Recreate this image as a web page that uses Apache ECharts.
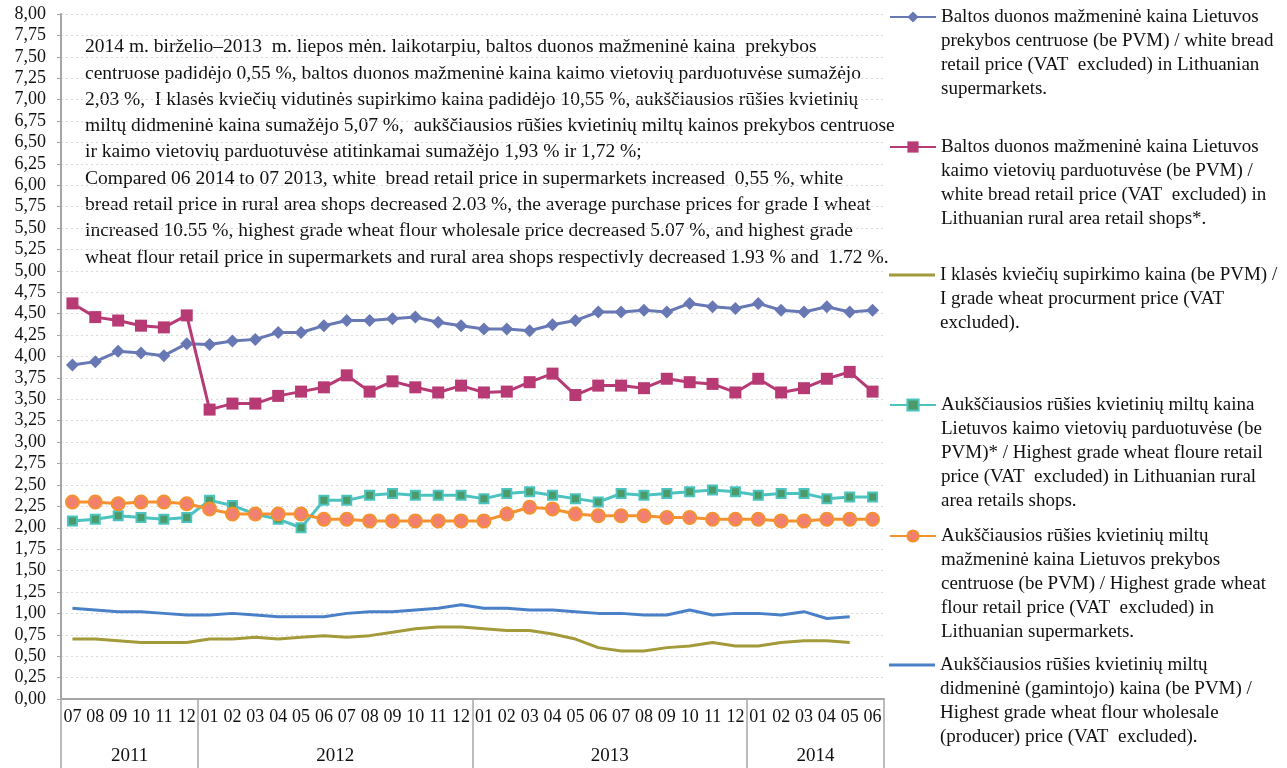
<!DOCTYPE html>
<html lang="lt">
<head>
    <meta charset="UTF-8">
    <title>Duonos ir miltų kainos</title>
    <script src="https://cdn.jsdelivr.net/npm/echarts@6/dist/echarts.min.js"></script>
    <style>
        html, body{
            margin: 0;
            padding: 0;
            background: #fff;
        }
        #chart{
            width: 1287px;
            height: 768px;
        }
    </style>
</head>
<body>
<div id="chart"></div>
<script>
    // 07 2011 - 06 2014
    var months = ['07','08','09','10','11','12',
        '01','02','03','04','05','06','07','08','09','10','11','12',
        '01','02','03','04','05','06','07','08','09','10','11','12',
        '01','02','03','04','05','06'];
    var years = ['2011', '2012', '2013', '2014'];
    var yearBounds = [0, 6, 18, 30, 36];
    var yearCenters = [3, 12, 24, 33];

    var breadSuper = [3.90,3.94,4.06,4.04,4.01,4.15,
        4.14,4.18,4.20,4.28,4.28,4.36,4.42,4.42,4.44,4.46,4.40,4.36,
        4.32,4.32,4.30,4.37,4.42,4.52,4.52,4.54,4.52,4.62,4.58,4.56,
        4.62,4.54,4.52,4.58,4.52,4.54];
    var breadRural = [4.62,4.46,4.42,4.36,4.34,4.48,
        3.38,3.45,3.45,3.54,3.59,3.64,3.78,3.59,3.71,3.64,3.58,3.66,
        3.58,3.59,3.70,3.80,3.55,3.66,3.66,3.63,3.74,3.70,3.68,3.58,
        3.74,3.58,3.63,3.74,3.82,3.59];
    var wheatPrice = [0.70,0.70,0.68,0.66,0.66,0.66,
        0.70,0.70,0.72,0.70,0.72,0.74,0.72,0.74,0.78,0.82,0.84,0.84,
        0.82,0.80,0.80,0.76,0.70,0.60,0.56,0.56,0.60,0.62,0.66,0.62,
        0.62,0.66,0.68,0.68,0.66,null];
    var flourRural = [2.08,2.10,2.14,2.12,2.10,2.12,
        2.32,2.26,2.16,2.10,2.00,2.32,2.32,2.38,2.40,2.38,2.38,2.38,
        2.34,2.40,2.42,2.38,2.34,2.30,2.40,2.38,2.40,2.42,2.44,2.42,
        2.38,2.40,2.40,2.34,2.36,2.36];
    var flourSuper = [2.30,2.30,2.28,2.30,2.30,2.28,
        2.22,2.16,2.16,2.16,2.16,2.10,2.10,2.08,2.08,2.08,2.08,2.08,
        2.08,2.16,2.24,2.22,2.16,2.14,2.14,2.14,2.12,2.12,2.10,2.10,
        2.10,2.08,2.08,2.10,2.10,2.10];
    var flourWholesale = [1.06,1.04,1.02,1.02,1.00,0.98,
        0.98,1.00,0.98,0.96,0.96,0.96,1.00,1.02,1.02,1.04,1.06,1.10,
        1.06,1.06,1.04,1.04,1.02,1.00,1.00,0.98,0.98,1.04,0.98,1.00,
        1.00,0.98,1.02,0.94,0.96,null];

    var names = [
        'Baltos duonos mažmeninė kaina Lietuvos\nprekybos centruose (be PVM) / white bread\nretail price (VAT  excluded) in Lithuanian\nsupermarkets.',
        'Baltos duonos mažmeninė kaina Lietuvos\nkaimo vietovių parduotuvėse (be PVM) /\nwhite bread retail price (VAT  excluded) in\nLithuanian rural area retail shops*.',
        'I klasės kviečių supirkimo kaina (be PVM) /\nI grade wheat procurment price (VAT\nexcluded).',
        'Aukščiausios rūšies kvietinių miltų kaina\nLietuvos kaimo vietovių parduotuvėse (be\nPVM)* / Highest grade wheat floure retail\nprice (VAT  excluded) in Lithuanian rural\narea retails shops.',
        'Aukščiausios rūšies kvietinių miltų\nmažmeninė kaina Lietuvos prekybos\ncentruose (be PVM) / Highest grade wheat\nflour retail price (VAT  excluded) in\nLithuanian supermarkets.',
        'Aukščiausios rūšies kvietinių miltų\ndidmeninė (gamintojo) kaina (be PVM) /\nHighest grade wheat flour wholesale\n(producer) price (VAT  excluded).'
    ];
    var legendIconY = [17, 147, 275, 405, 536, 665];
    var plainLine = [false, false, true, false, false, true];

    var note = '2014 m. birželio–2013  m. liepos mėn. laikotarpiu, baltos duonos mažmeninė kaina  prekybos\n' +
        'centruose padidėjo 0,55 %, baltos duonos mažmeninė kaina kaimo vietovių parduotuvėse sumažėjo\n' +
        '2,03 %,  I klasės kviečių vidutinės supirkimo kaina padidėjo 10,55 %, aukščiausios rūšies kvietinių\n' +
        'miltų didmeninė kaina sumažėjo 5,07 %,  aukščiausios rūšies kvietinių miltų kainos prekybos centruose\n' +
        'ir kaimo vietovių parduotuvėse atitinkamai sumažėjo 1,93 % ir 1,72 %;\n' +
        'Compared 06 2014 to 07 2013, white  bread retail price in supermarkets increased  0,55 %, white\n' +
        'bread retail price in rural area shops decreased 2.03 %, the average purchase prices for grade I wheat\n' +
        'increased 10.55 %, highest grade wheat flour wholesale price decreased 5.07 %, and highest grade\n' +
        'wheat flour retail price in supermarkets and rural area shops respectivly decreased 1.93 % and  1.72 %.';

    var serif = '"Liberation Serif", "Times New Roman", serif';
    var lh = 24;

    // one legend per series: text is padded with empty lines on top so the
    // icon sits level with the first line
    var legends = names.map(function (n, i) {
        var lines = n.split('\n').length;
        var pad = new Array(lines).join('\n');
        var ih = plainLine[i] ? 3 : 14;
        return {
            orient: 'vertical',
            left: 889,
            top: legendIconY[i] - (2 * lines - 1) * lh / 2,
            padding: 0,
            itemWidth: 46,
            itemHeight: ih,
            itemGap: 0,
            data: plainLine[i] ? [{name: n, icon: 'rect'}] : [n],
            formatter: function (name) {
                return pad + name;
            },
            textStyle: {
                fontFamily: serif,
                fontSize: 19,
                color: '#111',
                lineHeight: lh
            }
        };
    });

    var chart = echarts.init(document.getElementById('chart'));
    chart.setOption({
        animation: false,
        legend: legends,
        grid: {left: 61, right: 403, top: 14, bottom: 69},
        graphic: [{
            type: 'text',
            left: 85,
            top: 34,
            style: {
                text: note,
                font: '19.5px ' + serif,
                lineHeight: 26.3,
                fill: '#111'
            }
        }],
        xAxis: [{
            type: 'category',
            data: months,
            boundaryGap: true,
            axisLine: {lineStyle: {color: '#a6a6a6', width: 2}},
            axisTick: {interval: 0, length: 41, lineStyle: {color: '#a6a6a6', width: 1.5}},
            axisLabel: {interval: 0, margin: 9, fontFamily: serif, fontSize: 18, color: '#111'}
        }, {
            type: 'value',
            position: 'bottom',
            min: 0,
            max: 36,
            axisLine: {show: false},
            splitLine: {show: false},
            axisTick: {show: true, length: 70, customValues: yearBounds,
                lineStyle: {color: '#a6a6a6', width: 1.5}},
            axisLabel: {
                customValues: yearCenters,
                margin: 48,
                fontFamily: serif,
                fontSize: 19,
                color: '#111',
                formatter: function (v) {
                    return years[yearCenters.indexOf(v)];
                }
            }
        }],
        yAxis: {
            type: 'value',
            min: 0,
            max: 8,
            interval: 0.25,
            axisLine: {show: true, lineStyle: {color: '#a6a6a6', width: 2}},
            axisTick: {show: true, length: 4, lineStyle: {color: '#a6a6a6'}},
            axisLabel: {
                margin: 15,
                fontFamily: serif,
                fontSize: 18,
                color: '#111',
                formatter: function (v) {
                    return v.toFixed(2).replace('.', ',');
                }
            },
            splitLine: {lineStyle: {color: '#d9d9d9', type: [2, 3]}}
        },
        series: [{
            name: names[0],
            type: 'line',
            data: breadSuper,
            symbol: 'diamond',
            symbolSize: 13,
            lineStyle: {color: '#6878b4', width: 3},
            itemStyle: {color: '#6878b4'}
        }, {
            name: names[1],
            type: 'line',
            data: breadRural,
            symbol: 'rect',
            symbolSize: 12,
            lineStyle: {color: '#b83a74', width: 3},
            itemStyle: {color: '#b83a74'}
        }, {
            name: names[2],
            type: 'line',
            data: wheatPrice,
            symbol: 'none',
            lineStyle: {color: '#a39a3a', width: 3},
            itemStyle: {color: '#a39a3a'}
        }, {
            name: names[3],
            type: 'line',
            data: flourRural,
            symbol: 'rect',
            symbolSize: 9,
            lineStyle: {color: '#4cc3bf', width: 3},
            itemStyle: {color: '#4b9a68', borderColor: '#4cc3bf', borderWidth: 2}
        }, {
            name: names[4],
            type: 'line',
            data: flourSuper,
            symbol: 'circle',
            symbolSize: 13,
            lineStyle: {color: '#f5922f', width: 3},
            itemStyle: {color: '#f28070', borderColor: '#f5922f', borderWidth: 2}
        }, {
            name: names[5],
            type: 'line',
            data: flourWholesale,
            symbol: 'none',
            lineStyle: {color: '#4a80c8', width: 3},
            itemStyle: {color: '#4a80c8'}
        }]
    });
</script>
</body>
</html>
